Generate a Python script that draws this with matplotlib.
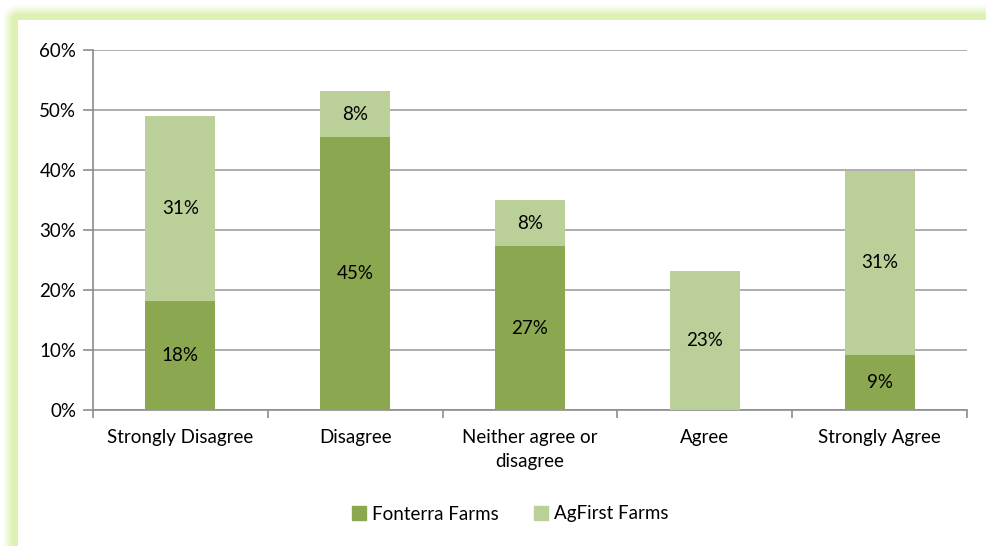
import numpy as np
from matplotlib import pyplot as plt
from matplotlib.patches import Patch

categories = ['Strongly Disagree', 'Disagree', 'Neither agree or\ndisagree', 'Agree', 'Strongly Agree']
fonterra = [18.2, 45.45, 27.3, 0.0, 9.1]
agfirst = [30.8, 7.7, 7.7, 23.1, 30.8]
series_names = ['Fonterra Farms', 'AgFirst Farms']
yticks = [0, 10, 20, 30, 40, 50, 60]

dark_green = '#8BA74F'
light_green = '#BBD098'
glow_green = np.array([221, 241, 178]) / 255.0

plt.rcParams['font.family'] = ['Lato', 'DejaVu Sans']
fs = 13.5

W, H = 987, 546
fig = plt.figure(figsize=(W / 100, H / 100), dpi=100)

# soft green glow around the white chart card
bg = fig.add_axes([0, 0, 1, 1], zorder=-10)
xx, yy = np.meshgrid(np.arange(W) + 0.5, np.arange(H) + 0.5)
dx = np.clip(18 - xx, 0, None)
dy = np.clip(20 - yy, 0, None)
d = np.sqrt(dx ** 2 + dy ** 2)
alpha = np.clip((15 - d) / 10, 0, 1)
alpha[(dx == 0) & (dy == 0)] = 0
img = np.ones((H, W, 3)) * (1 - alpha[..., None]) + glow_green * alpha[..., None]
bg.imshow(img, extent=[0, W, H, 0], aspect='auto', interpolation='bilinear')
bg.set_xlim(0, W)
bg.set_ylim(H, 0)
bg.axis('off')

ax = fig.add_axes([93 / W, 1 - 410 / H, (967 - 93) / W, 360 / H])
x = np.arange(len(categories))
width = 0.4

ax.bar(x, fonterra, width, color=dark_green, zorder=3)
ax.bar(x, agfirst, width, bottom=fonterra, color=light_green, zorder=3)

for i in range(len(categories)):
    if fonterra[i] > 0:
        ax.text(x[i], fonterra[i] / 2, f'{fonterra[i]:.0f}%', ha='center', va='center',
                fontsize=fs, zorder=4)
    if agfirst[i] > 0:
        ax.text(x[i], fonterra[i] + agfirst[i] / 2, f'{agfirst[i]:.0f}%', ha='center',
                va='center', fontsize=fs, zorder=4)

ax.set_xlim(-0.5, len(categories) - 0.5)
ax.set_ylim(0, 60)
ax.set_yticks(yticks)
ax.set_yticklabels([f'{t}%' for t in yticks], fontsize=fs)
ax.yaxis.grid(True, color='#A0A0A0', linewidth=1.2, zorder=0)
ax.set_axisbelow(True)

ax.set_xticks(x)
ax.set_xticklabels(categories, fontsize=fs, linespacing=1.5)
ax.tick_params(axis='x', length=0, pad=14)
ax.set_xticks(np.arange(len(categories) + 1) - 0.5, minor=True)
ax.tick_params(axis='x', which='minor', length=6, color='#8C8C8C', width=1.2)
ax.tick_params(axis='y', length=7, color='#8C8C8C', width=1.2, pad=5)

for side in ['top', 'right']:
    ax.spines[side].set_visible(False)
for side in ['left', 'bottom']:
    ax.spines[side].set_color('#8C8C8C')
    ax.spines[side].set_linewidth(1.2)

handles = [Patch(color=dark_green), Patch(color=light_green)]
fig.legend(handles, series_names, loc='center', bbox_to_anchor=(510 / W, 1 - 514 / H),
           ncol=2, frameon=False, fontsize=fs, handlelength=0.75, handleheight=0.75,
           handletextpad=0.3, columnspacing=1.9)

fig.savefig('out.png', dpi=100)
